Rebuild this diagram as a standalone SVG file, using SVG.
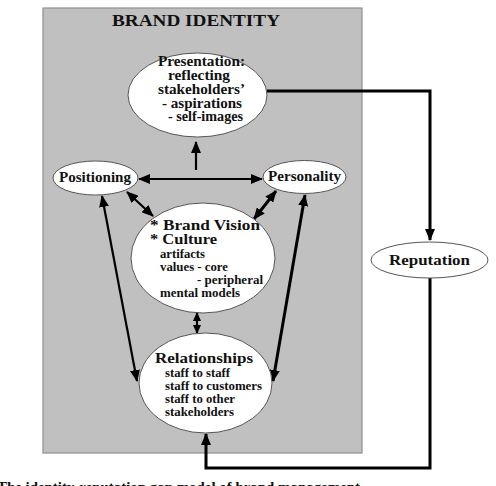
<svg xmlns="http://www.w3.org/2000/svg" width="496" height="486" viewBox="0 0 496 486">
  <style>
    .node ellipse { fill: #ffffff; stroke: #555555; stroke-width: 1; }
    .t { font-family: "Liberation Serif", "Times New Roman", serif; font-weight: bold; fill: #111111; }
    .lbl { font-size: 14px; }
    .big { font-size: 15.5px; }
    .sm { font-size: 12px; }
    .conn { fill: none; stroke: #000000; stroke-width: 2.2; }
    .thick { stroke-width: 3; }
  </style>
  <defs>
    <marker id="ah" markerUnits="userSpaceOnUse" markerWidth="12" markerHeight="10" refX="11" refY="5" orient="auto-start-reverse">
      <path d="M0,0 L12,5 L0,10 Z" fill="#000000"/>
    </marker>
    <marker id="ahs" markerUnits="userSpaceOnUse" markerWidth="9" markerHeight="8" refX="8" refY="4" orient="auto-start-reverse">
      <path d="M0,0 L9,4 L0,8 Z" fill="#000000"/>
    </marker>
  </defs>

  <rect width="496" height="486" fill="#ffffff"/>

  <!-- brand identity panel -->
  <g id="brand-identity">
    <rect x="43" y="8" width="319" height="445" fill="#c0c0c0" stroke="#8f8f8f" stroke-width="1.2"/>
    <text class="t" x="112" y="26" font-size="17" textLength="168" lengthAdjust="spacingAndGlyphs">BRAND IDENTITY</text>
  </g>

  <!-- connectors -->
  <g id="connectors">
    <!-- presentation to reputation -->
    <path class="conn thick" d="M267,91 H430 V240" marker-end="url(#ah)"/>
    <!-- reputation back to relationships -->
    <path class="conn thick" d="M430,278 V468 H206 V434" marker-end="url(#ah)"/>
    <!-- positioning <-> personality -->
    <path class="conn" d="M139,179 H262" marker-start="url(#ah)" marker-end="url(#ah)"/>
    <!-- up to presentation -->
    <path class="conn" d="M196,170 V142" marker-end="url(#ah)"/>
    <!-- positioning <-> brand vision -->
    <path class="conn" d="M127,192 L153,216" marker-start="url(#ah)" marker-end="url(#ah)"/>
    <!-- personality <-> brand vision -->
    <path class="conn thick" d="M276,191 L254,219" marker-start="url(#ah)" marker-end="url(#ah)"/>
    <!-- brand vision <-> relationships -->
    <path class="conn" d="M197,313 V333" marker-start="url(#ahs)" marker-end="url(#ahs)"/>
    <!-- positioning <-> relationships -->
    <path class="conn" d="M102,196 L137,381" marker-start="url(#ah)" marker-end="url(#ah)"/>
    <!-- personality <-> relationships -->
    <path class="conn thick" d="M305,195 L273,381" marker-start="url(#ah)" marker-end="url(#ah)"/>
  </g>

  <g id="presentation" class="node">
    <ellipse cx="197.5" cy="95" rx="69.5" ry="42"/>
    <text class="t lbl" x="158" y="66" textLength="87" lengthAdjust="spacingAndGlyphs">Presentation:</text>
    <text class="t lbl" x="168" y="80" textLength="62" lengthAdjust="spacingAndGlyphs">reflecting</text>
    <text class="t lbl" x="158" y="94" textLength="87" lengthAdjust="spacingAndGlyphs">stakeholders’</text>
    <text class="t lbl" x="162" y="107.5" textLength="80" lengthAdjust="spacingAndGlyphs">- aspirations</text>
    <text class="t lbl" x="168" y="121" textLength="75" lengthAdjust="spacingAndGlyphs">- self-images</text>
  </g>

  <g id="positioning" class="node">
    <ellipse cx="95.5" cy="178" rx="42.5" ry="17"/>
    <text class="t lbl" x="59" y="182" textLength="72" lengthAdjust="spacingAndGlyphs">Positioning</text>
  </g>

  <g id="personality" class="node">
    <ellipse cx="304.5" cy="177" rx="41.5" ry="16.5"/>
    <text class="t lbl" x="268" y="181" textLength="73" lengthAdjust="spacingAndGlyphs">Personality</text>
  </g>

  <g id="brand-vision" class="node">
    <ellipse cx="203" cy="258" rx="72" ry="55"/>
    <text class="t big" x="150" y="230" textLength="110" lengthAdjust="spacingAndGlyphs">* Brand Vision</text>
    <text class="t big" x="150" y="244" textLength="67" lengthAdjust="spacingAndGlyphs">* Culture</text>
    <text class="t sm" x="160" y="258" textLength="45" lengthAdjust="spacingAndGlyphs">artifacts</text>
    <text class="t sm" x="160" y="271" textLength="68" lengthAdjust="spacingAndGlyphs">values - core</text>
    <text class="t sm" x="197" y="284" textLength="66" lengthAdjust="spacingAndGlyphs">- peripheral</text>
    <text class="t sm" x="160" y="297" textLength="80" lengthAdjust="spacingAndGlyphs">mental models</text>
  </g>

  <g id="relationships" class="node">
    <ellipse cx="205.5" cy="383" rx="66.5" ry="50"/>
    <text class="t big" x="155" y="363" textLength="98" lengthAdjust="spacingAndGlyphs">Relationships</text>
    <text class="t sm" x="165" y="376.5" textLength="65" lengthAdjust="spacingAndGlyphs">staff to staff</text>
    <text class="t sm" x="165" y="389.5" textLength="97" lengthAdjust="spacingAndGlyphs">staff to customers</text>
    <text class="t sm" x="165" y="402.5" textLength="70" lengthAdjust="spacingAndGlyphs">staff to other</text>
    <text class="t sm" x="165" y="416" textLength="69" lengthAdjust="spacingAndGlyphs">stakeholders</text>
  </g>

  <g id="reputation" class="node">
    <ellipse cx="429.5" cy="260" rx="58.5" ry="18"/>
    <text class="t" x="389" y="265" font-size="15" textLength="81" lengthAdjust="spacingAndGlyphs">Reputation</text>
  </g>

  <!-- caption, running off the lower edge -->
  <text class="t" x="-3" y="492" font-size="14" textLength="363" lengthAdjust="spacingAndGlyphs">The identity-reputation gap model of brand management</text>
</svg>
